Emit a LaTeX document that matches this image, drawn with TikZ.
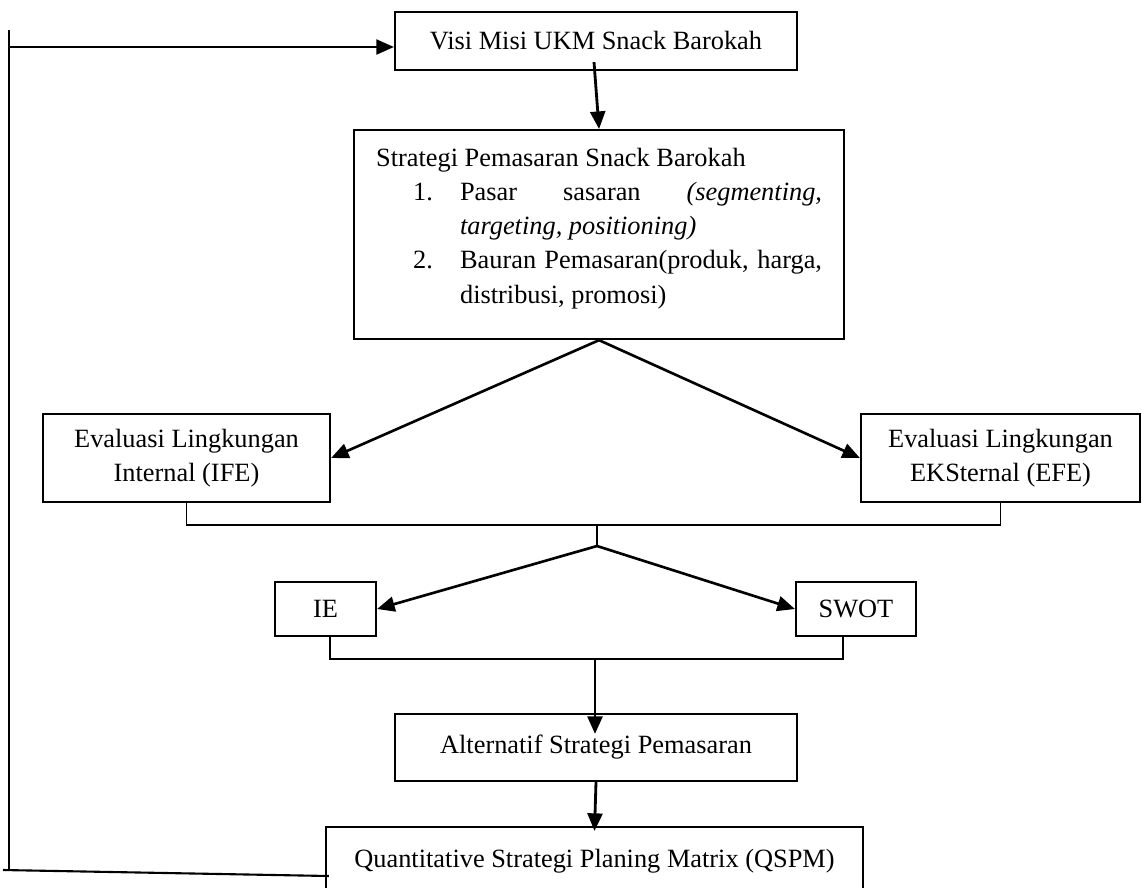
\documentclass[tikz,border=0pt]{standalone}
\usepackage{fontspec}
\setmainfont{Liberation Serif}
\usepackage{tikz}
\usetikzlibrary{calc, arrows.meta, positioning}

\begin{document}
\begin{tikzpicture}[x=0.02cm, y=-0.02cm, >={Triangle[length=10pt,width=8.5pt]}, font=\fontsize{15}{19.5}\selectfont]
            % Define block styles
            \tikzstyle{block} = [draw, rectangle, line width=1.25pt, inner sep=0pt, align=center]
            \tikzstyle{flow} = [->, line width=1.6pt]
            \tikzstyle{slant} = [->, line width=1.5pt]
            \tikzstyle{link} = [line width=1.1pt]

            \useasboundingbox (0,0) rectangle (1142,887);

            % Nodes
            \node[block, minimum width=8.04cm, minimum height=1.16cm] at (596,41) (visi) {Visi Misi UKM Snack Barokah};
            \node[block, anchor=north west, align=justify, text width=8.92cm, inner xsep=0.44cm, text height=0.72cm, text depth=3.46cm] at (353,129) (strat) {\tolerance=10000\hyphenpenalty=10000
            Strategi Pemasaran Snack Barokah\par
            \hangindent=1.68cm\hangafter=1\hspace*{0.74cm}\makebox[0.94cm][l]{1.}Pasar sasaran \textit{(segmenting,\linebreak targeting, positioning)}\par
            \hangindent=1.68cm\hangafter=1\hspace*{0.74cm}\makebox[0.94cm][l]{2.}Bauran Pemasaran(produk, harga,\linebreak distribusi, promosi)\par};
            \node[block, minimum width=5.74cm, minimum height=1.76cm] at (186.5,458) (ife) {Evaluasi Lingkungan\\Internal (IFE)};
            \node[block, minimum width=5.58cm, minimum height=1.76cm] at (1000.5,458) (efe) {Evaluasi Lingkungan\\EKSternal (EFE)};
            \node[block, minimum width=2.02cm, minimum height=1.08cm] at (325.5,609) (ie) {IE};
            \node[block, minimum width=2.4cm, minimum height=1.08cm] at (856,609) (swot) {SWOT};
            \node[block, minimum width=8.04cm, minimum height=1.34cm] at (596,747.5) (alt) {Alternatif Strategi Pemasaran};
            \node[block, minimum width=10.74cm, minimum height=1.36cm] at (594.5,861) (qspm) {Quantitative Strategi Planing Matrix (QSPM)};

            % Branch points and the feedback loop
            \coordinate (split1) at (597,546);
            \coordinate (split2) at (595,658);
            \coordinate (loop top) at (9,30);
            \coordinate (loop bottom) at (9,870);
            \coordinate (loop end) at (3,870);
            \coordinate (loop in) at (9,47);

            \draw[flow] ($(visi.south)+(-2,-9)$) -- (strat.north);
            \draw[slant] (strat.south) -- (ife.east);
            \draw[slant] (strat.south) -- (efe.west);
            \draw[link] (ife.south) -- ++(0,22) -| (efe.south);
            \draw[link] (split1) -- ++(0,-22);
            \draw[slant] (split1) -- (ie.east);
            \draw[slant] (split1) -- (swot.west);
            \draw[link] ($(ie.south)+(4.5,0)$) -- ++(0,22) -| ($(swot.south)+(-13,0)$);
            \draw[flow] (split2) -- ($(alt.north)+(-1,21)$);
            \draw[flow] (alt.south) -- ($(qspm.north)+(0,5)$);
            \draw[link, line width=1.2pt] ($(qspm.west)+(4,15)$) -- (loop end);
            \draw[link, line width=1.2pt] (loop top) -- (loop bottom);
            \draw[flow, line width=1.3pt] (loop in) -- (visi.west |- loop in);
        \end{tikzpicture}
\end{document}
